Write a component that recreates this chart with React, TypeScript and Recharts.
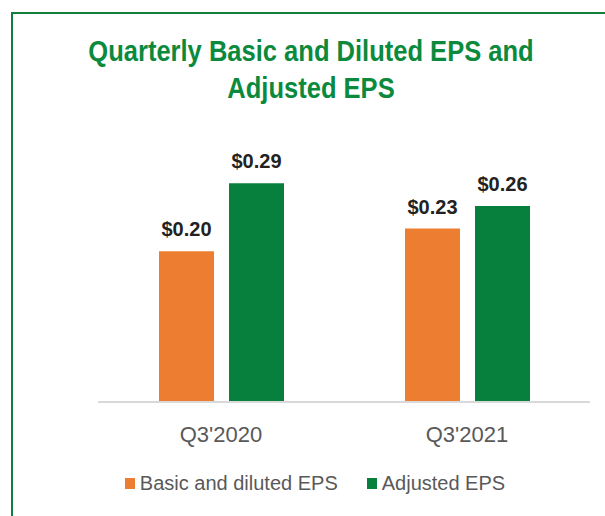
import React from 'react';
import { BarChart, Bar, XAxis, YAxis, LabelList, Legend } from 'recharts';

// значения EPS по кварталам
const quarters = ["Q3'2020", "Q3'2021"];
const basicEps = [0.2, 0.23];
const adjustedEps = [0.29, 0.26];

const ORANGE = '#ED7D31';
const GREEN = '#07803D';
const FONT = '"Liberation Sans", Arial, sans-serif';

const data = quarters.map((q, i) => ({ quarter: q, basic: basicEps[i], adjusted: adjustedEps[i] }));

const money = (v: any) => `$${Number(v).toFixed(2)}`;
const seriesOrder = ['basic', 'adjusted'];

const renderLegend = (props: any) => {
  const items = [...(props.payload || [])].sort(
    (a: any, b: any) => seriesOrder.indexOf(a.dataKey) - seriesOrder.indexOf(b.dataKey)
  );
  return (
    <div style={{ display: 'flex', justifyContent: 'center', alignItems: 'center', fontFamily: FONT, fontSize: 20, color: '#595959' }}>
      {items.map((item: any, i: number) => (
        <div key={i} style={{ display: 'flex', alignItems: 'center', marginRight: i === items.length - 1 ? 0 : 29 }}>
          <span style={{ width: 10, height: 11, background: item.color, marginRight: 5, display: 'inline-block' }} />
          <span>{item.value}</span>
        </div>
      ))}
    </div>
  );
};

const App: React.FC = () => {
  return (
    <div style={{ position: 'absolute', left: 0, top: 0, width: 605, height: 516, overflow: 'hidden', background: '#fff' }}>
      <div style={{ position: 'absolute', left: 11, top: 12, width: 640, height: 560, border: '2px solid #12803C', boxSizing: 'border-box' }} />
      {/* заголовок чуть сжат по ширине, как в оригинале */}
      <div
        style={{
          position: 'absolute', left: 0, top: 33, width: 622, textAlign: 'center',
          fontFamily: FONT, fontWeight: 'bold', fontSize: 29, lineHeight: '37px', color: '#0B8A3E',
          transform: 'scaleX(0.88)', transformOrigin: '311px 0',
        }}
      >
        Quarterly Basic and Diluted EPS and
        <br />
        Adjusted EPS
      </div>
      <div style={{ position: 'absolute', left: 0, top: 0 }}>
        <BarChart width={605} height={516} data={data} margin={{ top: 138, right: 15, bottom: 54, left: 98 }} barGap={15} barSize={55}>
          <XAxis
            dataKey="quarter"
            axisLine={{ stroke: '#D9D9D9', strokeWidth: 2 }}
            tickLine={false}
            tickMargin={18}
            tick={{ fontFamily: FONT, fontSize: 22, fill: '#595959' }}
            height={60}
          />
          <YAxis hide domain={[0, 0.35]} />
          <Legend
            verticalAlign="middle"
            align="center"
            layout="horizontal"
            content={renderLegend}
            wrapperStyle={{ left: 0, top: 472, width: 630 }}
          />
          <Bar dataKey="basic" name="Basic and diluted EPS" fill={ORANGE} isAnimationActive={false}>
            <LabelList dataKey="basic" position="top" offset={15} formatter={money} style={{ fontFamily: FONT, fontSize: 20, fontWeight: 'bold', fill: '#222' }} />
          </Bar>
          <Bar dataKey="adjusted" name="Adjusted EPS" fill={GREEN} isAnimationActive={false}>
            <LabelList dataKey="adjusted" position="top" offset={15} formatter={money} style={{ fontFamily: FONT, fontSize: 20, fontWeight: 'bold', fill: '#222' }} />
          </Bar>
        </BarChart>
      </div>
    </div>
  );
};

export default App;
